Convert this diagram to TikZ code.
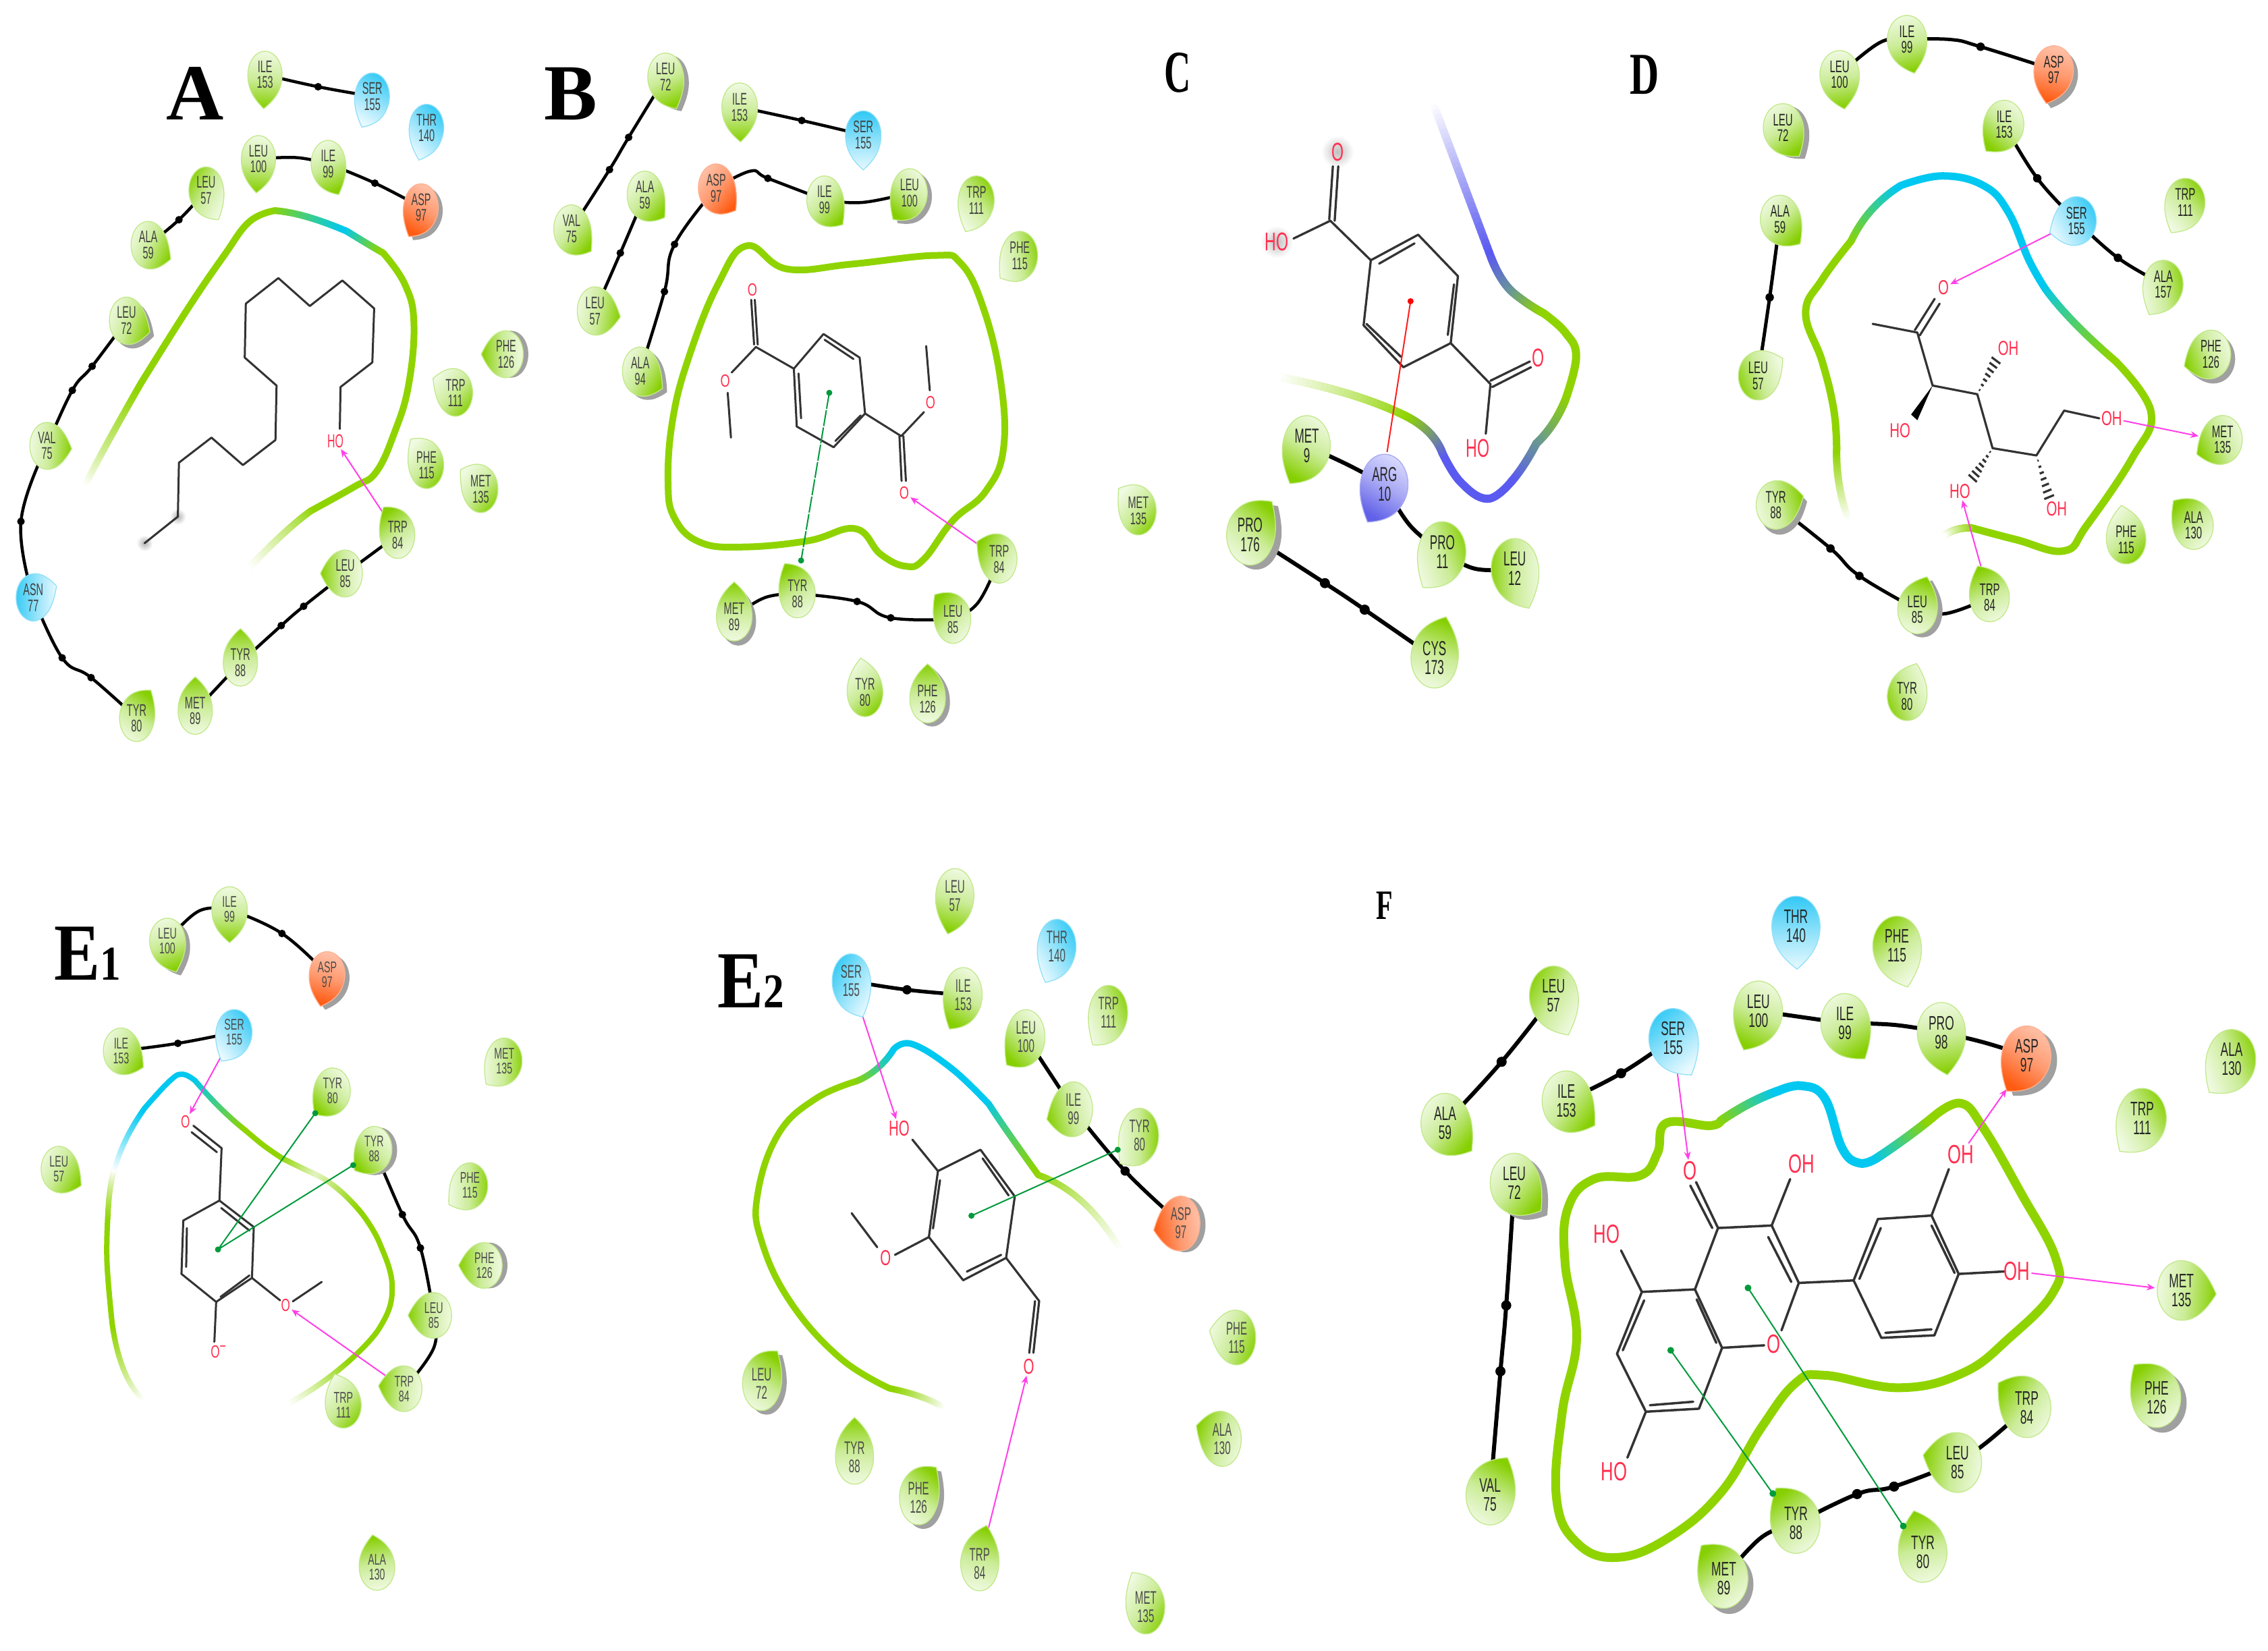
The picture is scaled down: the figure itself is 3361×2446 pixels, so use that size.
\documentclass[tikz,border=0pt]{standalone}
\usepackage{fontspec}
\usepackage{graphicx}
\usetikzlibrary{arrows.meta}
\newfontfamily\resfont{Liberation Sans}
\newfontfamily\serfont{Liberation Serif}
\pgfdeclarelayer{bg}\pgfsetlayers{bg,main}
\definecolor{pg}{HTML}{8FD400}
\definecolor{pc}{HTML}{00C8F0}
\definecolor{pb}{HTML}{5A5AF0}
\definecolor{pt}{HTML}{6A9A90}
\definecolor{pgl}{HTML}{E3F4BF}
\definecolor{hbc}{HTML}{FF40E8}
\definecolor{pic}{HTML}{009A3C}
\definecolor{atc}{HTML}{FF3050}
\definecolor{shc}{HTML}{A0A0A0}
\definecolor{r1}{HTML}{F0FAE2}\definecolor{r2}{HTML}{86CF00}\definecolor{r3}{HTML}{CBEC98}\definecolor{r4}{HTML}{C2E98A}
\definecolor{c1}{HTML}{E8F9FF}\definecolor{c2}{HTML}{30C8F5}\definecolor{c3}{HTML}{90E2FA}\definecolor{c4}{HTML}{90E0F8}
\definecolor{o1}{HTML}{FFC4AC}\definecolor{o2}{HTML}{FF5A10}\definecolor{o3}{HTML}{FF9A70}\definecolor{o4}{HTML}{FFB090}
\definecolor{b1}{HTML}{DCDCFF}\definecolor{b2}{HTML}{6060E8}\definecolor{b3}{HTML}{A8A8F4}\definecolor{b4}{HTML}{A8A8F0}
\tikzset{
 resg/.style={top color=r1,bottom color=r2,middle color=r3,draw=r4},
 resc/.style={top color=c1,bottom color=c2,middle color=c3,draw=c4},
 reso/.style={top color=o1,bottom color=o2,middle color=o3,draw=o4},
 resb/.style={top color=b1,bottom color=b2,middle color=b3,draw=b4},
 bb/.style={line width=\bbw pt,black,line cap=round},
 pk/.style={line width=\pkw pt,pg,line cap=round,line join=round},
 bd/.style={line width=\bw pt,black!80,line cap=round,line join=round},
 hb/.style={-{Stealth[length=12pt,width=10pt]},hbc,line width=2pt},
 pil/.style={pic,line width=2pt},
 atm/.style={inner sep=2pt,text=atc,font=\resfont\fontsize{\afs}{\afs}\selectfont},
 lbl/.style={inner sep=0pt,text=black,font=\serfont\bfseries\fontsize{#1}{#1}\selectfont},
 resl/.style={circle,inner sep=0pt,minimum size=36pt,align=center,text=\tcol,font=\resfont\fontsize{\lfs}{\lbs}\selectfont},
}
\def\dpath{(68,0) .. controls (50,28) and (30,47) .. (0,47) .. controls (-26,47) and (-47,26) .. (-47,0) .. controls (-47,-26) and (-26,-47) .. (0,-47) .. controls (30,-47) and (50,-28) .. (68,0) -- cycle}
\newcommand\res[9][]{%
 \if\relax\detokenize{#1}\relax\pgfmathsetmacro\sa{#5+90}\else\pgfmathsetmacro\sa{#1+90}\fi
 \begin{scope}[shift={(#3,#4)},x={({\gx*cos(#5)*1pt},{\gy*sin(#5)*1pt})},y={({-1*\gx*sin(#5)*1pt},{\gy*cos(#5)*1pt})}]
  \if\relax\detokenize{#7}\relax\else
   \fill[shc,shift={({14*\gx*cos(#7)*1pt},{14*\gy*sin(#7)*1pt})}] \dpath;
  \fi
  \shade[res#6,shading angle=\sa,line width=1.3pt] \dpath;
 \end{scope}
 \node[resl] (#2) at (#3,#4) {\scalebox{\lxs}[1]{#8}\\\scalebox{\lxs}[1]{#9}};
}
\newcommand\lk[3]{\begin{pgfonlayer}{bg}\draw[bb] plot[smooth,tension=.7] coordinates {(#1) #2 (#3)};\end{pgfonlayer}}
\newcommand\dt[1]{\begin{pgfonlayer}{bg}\foreach \q in {#1}{\fill[black] \q circle[radius=1.25*\bbw pt];}\end{pgfonlayer}}
\newcommand\gr[3]{\grp{#1}{#2}#3\grend}
\def\grp#1#2(#3,#4) (#5,#6) (#7,#8)\grend{%
 \begin{pgfonlayer}{bg}
 \foreach \i in {1,...,30}{%
  \pgfmathsetmacro\ta{(\i-1)/30}\pgfmathsetmacro\tb{\i/30}\pgfmathsetmacro\pkpct{100*\tb}%
  \pgfmathsetmacro\xa{#3*(1-\ta)*(1-2*\ta)+4*#5*\ta*(1-\ta)+#7*\ta*(2*\ta-1)}%
  \pgfmathsetmacro\ya{#4*(1-\ta)*(1-2*\ta)+4*#6*\ta*(1-\ta)+#8*\ta*(2*\ta-1)}%
  \pgfmathsetmacro\xb{#3*(1-\tb)*(1-2*\tb)+4*#5*\tb*(1-\tb)+#7*\tb*(2*\tb-1)}%
  \pgfmathsetmacro\yb{#4*(1-\tb)*(1-2*\tb)+4*#6*\tb*(1-\tb)+#8*\tb*(2*\tb-1)}%
  \draw[line width=\pkw pt,line cap=round,color=#2!\pkpct!#1] (\xa,\ya) -- (\xb,\yb);
 }
 \end{pgfonlayer}}
\newcommand\pkd[1]{\begin{pgfonlayer}{bg}\draw[pk] plot[smooth,tension=.7] coordinates {#1};\end{pgfonlayer}}
\newcommand\pkc[1]{\begin{pgfonlayer}{bg}\draw[pk] plot[smooth cycle,tension=.7] coordinates {#1};\end{pgfonlayer}}
\newcommand\hbk[2]{\begin{pgfonlayer}{bg}\draw[hb] (#1) -- (#2);\end{pgfonlayer}}
\newcommand\at[4]{\node[atm] (#1) at (#2,#3) {\scalebox{\axs}[1]{#4}};}
\newcommand\hashb[4]{\foreach \tt in {.12,.26,.40,.54,.68,.82,.96}{\pgfmathsetmacro\hx{#1+\tt*(#3-#1)}\pgfmathsetmacro\hy{#2+\tt*(#4-#2)}\pgfmathsetmacro\hl{veclen(#3-#1,#4-#2)}\pgfmathsetmacro\nx{-(#4-#2)/\hl*\tt*13}\pgfmathsetmacro\ny{(#3-#1)/\hl*\tt*13}\draw[bd,line cap=butt] (\hx+\nx,\hy+\ny) -- (\hx-\nx,\hy-\ny);}}
\begin{document}
\begin{tikzpicture}[x=1pt,y=-1pt]
\useasboundingbox (0,0) rectangle (3361,2446);
\begin{pgfonlayer}{bg}\fill[white] (0,0) rectangle (3361,2446);\end{pgfonlayer}
%%%%%%%% labels
\node[lbl=118] (lblA) at (289,139) {A};
\node[lbl=118] (lblB) at (846,139) {B};
\node[lbl=88] (lblC) at (1745,108) {\scalebox{.62}[1]{C}};
\node[lbl=88] (lblD) at (2437,111) {\scalebox{.68}[1]{D}};
\node[lbl=120] (lblE) at (130,1413) {\scalebox{.85}[1]{E{\fontsize{72}{72}\selectfont 1}}};
\node[lbl=120] (lblF) at (1113,1454) {\scalebox{.85}[1]{E{\fontsize{72}{72}\selectfont 2}}};
\node[lbl=62] (lblG) at (2052,1342) {\scalebox{.65}[1]{F}};
%%%%%%%% Panel A
\def\gx{.54}\def\gy{.74}\def\lfs{25}\def\lbs{23.5}\def\lxs{.58}\def\pkw{10}\def\bbw{4.5}\def\bw{3}\def\tcol{black!75}\def\afs{28}\def\axs{.57}
\begin{scope}[shift={(0,0)},x=.5357pt,y=-.7143pt]
\gr{white}{pg}{(240,1000) (300,915) (390,795)}
\pkd{(390,795) (520,640) (620,530) (690,460) (760,437)}
\gr{pg}{pc}{(760,437) (850,450) (960,480)}
\gr{pc}{pg}{(960,480) (1010,503) (1060,525)}
\pkd{(1060,525) (1120,590) (1145,670) (1130,800) (1090,900) (1040,980) (980,1010) (860,1060)}
\gr{pg}{white}{(860,1060) (780,1110) (680,1185)}
\res{aI}{733}{155}{-93}{g}{}{ILE}{153}
\res[60]{aS}{1030}{200}{-115}{c}{}{SER}{155}
\res[45]{aT}{1180}{265}{-108}{c}{}{THR}{140}
\res{aL}{715}{330}{-95}{g}{}{LEU}{100}
\res{aIn}{908}{340}{-65}{g}{}{ILE}{99}
\res{aD}{1165}{430}{-120}{o}{-30}{ASP}{97}
\res[150]{aL5}{570}{395}{-60}{g}{}{LEU}{57}
\res{aA}{410}{508}{-25}{g}{}{ALA}{59}
\res{aL7}{350}{665}{-20}{g}{-35}{LEU}{72}
\res{aV}{130}{925}{-5}{g}{}{VAL}{75}
\res[180]{aN}{92}{1240}{20}{c}{}{ASN}{77}
\res{aY}{378}{1490}{55}{g}{}{TYR}{80}
\res{aM}{540}{1475}{90}{g}{}{MET}{89}
\res{aY8}{665}{1375}{90}{g}{}{TYR}{88}
\res{aL8}{955}{1190}{180}{g}{}{LEU}{85}
\res{aW}{1100}{1110}{125}{g}{}{TRP}{84}
\res{aF}{1400}{735}{180}{g}{0}{PHE}{126}
\res[-40]{aW1}{1260}{815}{155}{g}{}{TRP}{111}
\res[-40]{aF1}{1180}{965}{130}{g}{}{PHE}{115}
\res[-40]{aM1}{1330}{1015}{145}{g}{}{MET}{135}
\lk{aI}{(880,180)}{aS}\dt{(880,180)}
\lk{aL}{(820,327)}{aIn}
\lk{aIn}{(1037,380)}{aD}\dt{(1037,380)}
\lk{aL5}{(495,456)}{aA}\dt{(495,456)}
\lk{aL7}{(255,760) (200,810)}{aV}\dt{(255,760),(200,810)}
\lk{aV}{(58,1082)}{aN}\dt{(58,1082)}
\lk{aN}{(172,1365) (252,1406)}{aY}\dt{(172,1365),(252,1406)}
\lk{aM}{}{aY8}
\lk{aY8}{(778,1298) (840,1258)}{aL8}\dt{(778,1298),(840,1258)}
\lk{aL8}{}{aW}
\shade[inner color=black!30,outer color=white] (400,1127) circle[radius=12pt];
\shade[inner color=black!30,outer color=white] (492,1072) circle[radius=12pt];
\draw[bd] (400,1127) -- (492,1072) -- (495,960) -- (585,908) -- (672,965) -- (762,913) -- (765,800) -- (677,742) -- (680,630) -- (770,577) -- (857,635) -- (947,582) -- (1035,640) -- (1030,752) -- (942,803) -- (940,890);
\at{aHO}{928}{915}{HO}
\hbk{aW}{aHO}
\end{scope}
%%%%%%%% Panel B
\def\gx{.56}\def\gy{.76}\def\lfs{25}\def\lbs{24}\def\lxs{.58}\def\pkw{10}\def\bbw{4.5}\def\bw{3}\def\tcol{black!75}\def\afs{26}\def\axs{.7}
\begin{scope}[shift={(780,0)},x=.5357pt,y=-.7143pt]
\pkc{(610,510) (720,558) (900,548) (1130,530) (1200,545) (1260,630) (1310,780) (1320,930) (1270,1020) (1180,1080) (1100,1160) (1050,1175) (980,1150) (910,1097) (780,1122) (600,1135) (480,1125) (410,1075) (392,1000) (405,870) (450,740) (530,590)}
\res{bL7}{385}{160}{-65}{g}{-20}{LEU}{72}
\res{bI}{590}{222}{-88}{g}{}{ILE}{153}
\res[90]{bS}{932}{280}{-90}{c}{}{SER}{155}
\res{bV}{125}{475}{-40}{g}{}{VAL}{75}
\res{bA}{328}{405}{-40}{g}{}{ALA}{59}
\res{bD}{525}{390}{-40}{o}{}{ASP}{97}
\res{bIn}{825}{415}{-45}{g}{}{ILE}{99}
\res{bL}{1060}{400}{-130}{g}{-30}{LEU}{100}
\res[40]{bW1}{1245}{415}{-115}{g}{}{TRP}{111}
\res[10]{bF1}{1365}{530}{-140}{g}{}{PHE}{115}
\res{bL5}{190}{645}{-10}{g}{}{LEU}{57}
\res{bA9}{315}{770}{-30}{g}{-30}{ALA}{94}
\res{bM}{575}{1280}{90}{g}{-40}{MET}{89}
\res{bY8}{750}{1232}{120}{g}{}{TYR}{88}
\res{bL8}{1180}{1285}{135}{g}{}{LEU}{85}
\res{bW}{1308}{1160}{150}{g}{}{TRP}{84}
\res[-45]{bY}{937}{1437}{100}{g}{}{TYR}{80}
\res{bF}{1110}{1450}{90}{g}{-30}{PHE}{126}
\res[-40]{bMx}{1693}{1060}{140}{g}{}{MET}{135}
\lk{bL7}{(283,285) (230,352)}{bV}\dt{(283,285),(230,352)}
\lk{bI}{(762,250)}{bS}\dt{(762,250)}
\lk{bA}{(260,525)}{bL5}\dt{(260,525)}
\lk{bD}{(410,507) (382,605)}{bA9}\dt{(410,507),(382,605)}
\lk{bD}{(620,355) (668,370)}{bIn}\dt{(668,370)}
\lk{bIn}{(930,420)}{bL}
\lk{bM}{(660,1240)}{bY8}
\lk{bY8}{(915,1248) (1008,1282)}{bL8}\dt{(915,1248),(1008,1282)}
\lk{bL8}{(1250,1250)}{bW}
\draw[bd] (740,765) -- (822,693) -- (922,742) -- (937,858) -- (850,928) -- (748,885) -- cycle;
\draw[bd] (753,775) -- (760,868) (825,705) -- (905,745) (855,915) -- (925,862);
\draw[bd] (740,765) -- (635,720) -- (568,773) (630,715) -- (622,622) (640,715) -- (632,622) (557,815) -- (566,908);
\draw[bd] (937,858) -- (1037,905) -- (1100,855) (1116,810) -- (1106,718) (1032,905) -- (1038,998) (1043,905) -- (1050,998);
\at{bO1}{625}{602}{O}\at{bO2}{550}{790}{O}\at{bO3}{1118}{835}{O}\at{bO4}{1045}{1023}{O}
\hbk{bW}{bO4}
\coordinate (bc1) at (838,815);\coordinate (bc2) at (760,1163);
\draw[pil,dash pattern=on 24pt off 2pt] (bc1) -- (bc2);\fill[pic] (bc1) circle[radius=4.5pt] (bc2) circle[radius=4.5pt];
\end{scope}
%%%%%%%% Panel C
\def\gx{.74}\def\gy{.95}\def\lfs{30}\def\lbs{28.5}\def\lxs{.57}\def\pkw{12}\def\bbw{6}\def\bw{3.3}\def\tcol{black!85}\def\afs{38}\def\axs{.61}
\begin{scope}[shift={(1650,0)},x=.5357pt,y=-.7143pt]
\gr{white}{pb}{(890,225) (965,375) (1045,535)}
\gr{pb}{pt}{(1045,535) (1075,580) (1110,610)}
\gr{pt}{pg}{(1110,610) (1150,632) (1190,650)}
\pkd{(1190,650) (1250,690) (1280,740) (1250,830)}
\gr{pg}{pt}{(1250,830) (1215,880) (1170,920)}
\gr{pt}{pb}{(1170,920) (1135,965) (1100,1000)}
\begin{pgfonlayer}{bg}\draw[pk,pb] plot[smooth,tension=.7] coordinates {(1100,1000) (1035,1035) (960,1000) (910,940)};\end{pgfonlayer}
\gr{pb}{pg}{(910,940) (870,895) (800,860)}
\gr{pg}{white}{(800,860) (640,815) (440,780)}
\res{cP}{378}{1110}{50}{g}{-30}{PRO}{176}
\res{cM}{535}{925}{-120}{g}{}{MET}{9}
\res{cA}{750}{1005}{-120}{b}{}{ARG}{10}
\res[20]{cP1}{910}{1145}{-125}{g}{}{PRO}{11}
\res[180]{cL}{1110}{1180}{-65}{g}{}{LEU}{12}
\res{cC}{888}{1365}{70}{g}{}{CYS}{173}
\lk{cM}{(650,965)}{cA}
\lk{cA}{(820,1090)}{cP1}
\lk{cP1}{(1000,1180)}{cL}
\lk{cP}{(585,1210) (695,1265)}{cC}\dt{(585,1210),(695,1265)}
\shade[inner color=black!25,outer color=white] (620,315) circle[radius=24pt];
\shade[inner color=black!25,outer color=white] (452,502) circle[radius=24pt];
\draw[bd] (712,540) -- (843,487) -- (953,573) -- (933,712) -- (802,762) -- (692,675) -- cycle;
\draw[bd] (735,547) -- (833,505) (942,590) -- (925,695) (700,672) -- (795,740);
\draw[bd] (712,540) -- (600,458) -- (498,495) (597,455) -- (607,345) (612,458) -- (622,345);
\draw[bd] (933,712) -- (1043,797) -- (1030,900) (1043,790) -- (1152,750) (1048,803) -- (1155,762);
\at{cO1}{620}{315}{O}\at{cHO1}{452}{502}{HO}\at{cO2}{1175}{743}{O}\at{cHO2}{1008}{930}{HO}
\coordinate (cc) at (822,625);\coordinate (cc2) at (757,938);
\draw[red!85!pink,line width=2pt] (cc) -- (cc2);\fill[red] (cc) circle[radius=4.5pt];
\end{scope}
%%%%%%%% Panel D
\def\gx{.62}\def\gy{.76}\def\lfs{25}\def\lbs{23.5}\def\lxs{.6}\def\pkw{11}\def\bbw{5}\def\bw{3.2}\def\tcol{black!85}\def\afs{30}\def\axs{.68}
\begin{scope}[shift={(2400,0)},x=.6129pt,y=-.7143pt]
\gr{white}{pg}{(550,1070) (530,1000) (525,930)}
\pkd{(525,930) (518,850) (490,750) (450,650) (490,580) (560,500)}
\gr{pg}{pc}{(560,500) (610,435) (680,385)}
\begin{pgfonlayer}{bg}\draw[pk,pc] plot[smooth,tension=.7] coordinates {(680,385) (780,365) (880,385) (940,440) (990,540) (1030,600)};\end{pgfonlayer}
\gr{pc}{pg}{(1030,600) (1100,670) (1200,750)}
\pkd{(1200,750) (1285,855) (1240,950) (1130,1090) (1075,1143) (960,1120) (850,1095)}
\gr{pg}{white}{(850,1095) (810,1100) (780,1115)}
\res{dIn}{695}{82}{-75}{g}{}{ILE}{99}
\res{dL}{532}{155}{-80}{g}{}{LEU}{100}
\res{dD}{1050}{145}{-105}{o}{-40}{ASP}{97}
\res{dL7}{395}{265}{-55}{g}{-20}{LEU}{72}
\res{dI}{930}{258}{-130}{g}{}{ILE}{153}
\res{dA}{388}{455}{-45}{g}{}{ALA}{59}
\res[30]{dS}{1105}{458}{200}{c}{}{SER}{155}
\res[40]{dW1}{1368}{420}{-120}{g}{}{TRP}{111}
\res[10]{dA5}{1315}{590}{-120}{g}{}{ALA}{157}
\res{dF}{1430}{735}{200}{g}{-40}{PHE}{126}
\res[200]{dL5}{335}{780}{30}{g}{}{LEU}{57}
\res{dM}{1458}{912}{205}{g}{}{MET}{135}
\res[-45]{dF1}{1225}{1120}{100}{g}{}{PHE}{115}
\res{dA1}{1388}{1090}{135}{g}{}{ALA}{130}
\res{dY8}{378}{1048}{15}{g}{-50}{TYR}{88}
\res{dL8}{720}{1265}{70}{g}{-30}{LEU}{85}
\res{dW}{895}{1240}{115}{g}{}{TRP}{84}
\res[200]{dY}{695}{1445}{70}{g}{}{TYR}{80}
\lk{dL}{(630,88)}{dIn}
\lk{dIn}{(800,82) (873,97)}{dD}\dt{(873,97)}
\lk{dI}{(1010,370)}{dS}\dt{(1010,370)}
\lk{dS}{(1205,535)}{dA5}\dt{(1205,535)}
\lk{dA}{(363,617)}{dL5}\dt{(363,617)}
\lk{dY8}{(510,1138) (580,1195)}{dL8}\dt{(510,1138),(580,1195)}
\lk{dL8}{(790,1273)}{dW}
\draw[bd] (612,672) -- (720,690) -- (757,800) -- (865,818) -- (902,930) -- (1008,945) -- (1075,852) -- (1160,868);
\draw[bd] (714,685) -- (762,620) (726,696) -- (774,630);
\fill[black] (757,800) -- (705,860) -- (720,872) -- cycle;
\hashb{865}{818}{912}{745}
\hashb{902}{930}{852}{995}
\hashb{1008}{945}{1040}{1035}
\at{dO}{783}{597}{O}\at{dOH1}{940}{722}{OH}\at{dHO1}{678}{893}{HO}\at{dHO2}{823}{1020}{HO}\at{dOH2}{1057}{1056}{OH}\at{dOH3}{1190}{868}{OH}
\hbk{dS}{dO}
\coordinate (dme) at (1400,905);
\hbk{dOH3}{dme}
\hbk{dW}{dHO2}
\end{scope}
%%%%%%%% Panel E1
\def\gx{.56}\def\gy{.72}\def\lfs{23}\def\lbs{22}\def\lxs{.62}\def\pkw{8}\def\bbw{4.5}\def\bw{3}\def\tcol{black!70}\def\afs{26}\def\axs{.66}
\begin{scope}[shift={(0,1280)},x=.5357pt,y=-.7398pt]
\gr{white}{pg}{(390,1070) (340,1010) (310,920)}
\pkd{(310,920) (296,800) (298,710)}
\gr{pg}{white}{(298,710) (305,650) (318,610)}
\gr{white}{pc}{(318,610) (350,550) (400,490)}
\begin{pgfonlayer}{bg}\draw[pk,pc] plot[smooth,tension=.7] coordinates {(400,490) (470,435) (505,422) (540,435)};\end{pgfonlayer}
\gr{pc}{pg}{(540,435) (610,490) (680,535)}
\pkd{(680,535) (730,565) (780,590)}
\gr{pg}{pgl}{(780,590) (830,608) (880,625)}
\gr{pgl}{pg}{(880,625) (940,655) (1000,700)}
\pkd{(1000,700) (1050,760) (1085,850) (1050,930) (960,1000)}
\gr{pg}{white}{(960,1000) (880,1045) (790,1085)}
\res{eL}{463}{155}{-70}{g}{-30}{LEU}{100}
\res{eIn}{635}{92}{-90}{g}{}{ILE}{99}
\res{eD}{905}{222}{-105}{o}{-30}{ASP}{97}
\res{eI}{335}{375}{-30}{g}{}{ILE}{153}
\res[40]{eS}{648}{338}{-120}{c}{}{SER}{155}
\res{eL5}{163}{612}{-30}{g}{}{LEU}{57}
\res{eY}{920}{455}{-135}{g}{}{TYR}{80}
\res{eY8}{1035}{572}{-140}{g}{-10}{TYR}{88}
\res[0]{eM}{1395}{395}{-135}{g}{}{MET}{135}
\res[0]{eF1}{1300}{645}{-145}{g}{}{PHE}{115}
\res{eF}{1340}{805}{180}{g}{0}{PHE}{126}
\res{eL8}{1200}{905}{180}{g}{}{LEU}{85}
\res{eW}{1118}{1052}{175}{g}{}{TRP}{84}
\res[-40]{eW1}{950}{1085}{110}{g}{}{TRP}{111}
\res{eA}{1043}{1410}{100}{g}{}{ALA}{130}
\lk{eL}{(550,95)}{eIn}
\lk{eIn}{(780,140)}{eD}\dt{(780,140)}
\lk{eI}{(492,360)}{eS}\dt{(492,360)}
\lk{eY8}{(1113,703) (1163,770)}{eL8}\dt{(1113,703),(1163,770)}
\lk{eL8}{(1200,970)}{eW}
\draw[bd] (607,675) -- (702,728) -- (697,830) -- (598,878) -- (502,822) -- (507,715) -- cycle;
\draw[bd] (612,690) -- (690,735) (690,825) -- (610,868) (517,730) -- (515,808);
\draw[bd] (607,675) -- (613,570) -- (535,525) (600,578) -- (530,538);
\draw[bd] (697,830) -- (775,875) (810,877) -- (890,838) (598,878) -- (593,958);
\at{eO1}{513}{517}{O}\at{eO2}{790}{885}{O}\at{eO3}{604}{978}{O\raisebox{.35em}{\fontsize{24}{24}\selectfont −}}
\hbk{eS}{eO1}
\hbk{eW}{eO2}
\coordinate (ec) at (603,773);\coordinate (ec1) at (872,500);\coordinate (ec2) at (977,604);
\draw[pil] (ec) -- (ec1) (ec) -- (ec2);\fill[pic] (ec) circle[radius=4.5pt] (ec1) circle[radius=4.5pt] (ec2) circle[radius=4.5pt];
\end{scope}
%%%%%%%% Panel E2
\def\gx{.6}\def\gy{.86}\def\lfs{27}\def\lbs{27}\def\lxs{.56}\def\pkw{9.5}\def\bbw{5.5}\def\bw{3.2}\def\tcol{black!70}\def\afs{32}\def\axs{.64}
\begin{scope}[shift={(1000,1260)},x=.6122pt,y=-.7526pt]
\gr{white}{pg}{(645,1095) (590,1075) (520,1060)}
\pkd{(520,1060) (400,1000) (280,890) (210,770) (200,680) (250,560) (340,490) (440,455)}
\gr{pg}{pc}{(440,455) (490,430) (530,392)}
\begin{pgfonlayer}{bg}\draw[pk,pc] plot[smooth,tension=.7] coordinates {(530,392) (575,382) (670,430) (760,500)};\end{pgfonlayer}
\gr{pc}{pg}{(760,500) (810,560) (880,640)}
\gr{pg}{white}{(880,640) (990,695) (1085,795)}
\res{fL5}{678}{90}{-105}{g}{}{LEU}{57}
\res[150]{fS}{427}{258}{-65}{c}{}{SER}{155}
\res{fI}{698}{285}{-120}{g}{}{ILE}{153}
\res[30]{fT}{925}{190}{-115}{c}{}{THR}{140}
\res[20]{fW1}{1050}{320}{-125}{g}{}{TRP}{111}
\res{fL}{850}{368}{-135}{g}{}{LEU}{100}
\res{fIn}{965}{510}{-165}{g}{}{ILE}{99}
\res[0]{fY}{1125}{562}{-135}{g}{}{TYR}{80}
\res{fD}{1225}{735}{190}{o}{-10}{ASP}{97}
\res[-20]{fF1}{1360}{960}{170}{g}{}{PHE}{115}
\res{fA}{1325}{1160}{160}{g}{}{ALA}{130}
\res{fL7}{210}{1050}{55}{g}{-30}{LEU}{72}
\res{fY8}{435}{1195}{90}{g}{}{TYR}{88}
\res{fF}{590}{1275}{50}{g}{-30}{PHE}{126}
\res{fW}{738}{1405}{75}{g}{}{TRP}{84}
\res[-30]{fM}{1140}{1490}{120}{g}{}{MET}{135}
\lk{fS}{(562,275)}{fI}\dt{(562,275)}
\lk{fL}{}{fIn}
\lk{fIn}{(1090,632)}{fD}\dt{(1090,632)}
\draw[bd] (637,632) -- (740,590) -- (823,682) -- (802,803) -- (698,847) -- (615,762) -- cycle;
\draw[bd] (745,607) -- (808,680) (707,830) -- (790,797) (642,650) -- (625,745);
\draw[bd] (637,632) -- (575,570) (615,762) -- (533,797) (490,782) -- (428,715) (802,803) -- (882,888) -- (868,990) (872,888) -- (858,990);
\at{fHO}{543}{548}{HO}\at{fO1}{510}{803}{O}\at{fO2}{857}{1017}{O}
\hbk{fS}{fHO}
\hbk{fW}{fO2}
\coordinate (fc) at (718,720);\coordinate (fc1) at (1072,590);
\draw[pil] (fc) -- (fc1);\fill[pic] (fc) circle[radius=4.5pt] (fc1) circle[radius=4.5pt];
\end{scope}
%%%%%%%% Panel F
\def\gx{.76}\def\gy{.94}\def\lfs{29}\def\lbs{28}\def\lxs{.6}\def\pkw{13}\def\bbw{6}\def\bw{3.5}\def\tcol{black!85}\def\afs{39}\def\axs{.66}
\begin{scope}[shift={(2020,1280)},x=.8552pt,y=-.7398pt]
\pkd{(620,515) (600,525) (525,520) (510,580) (480,625) (400,632) (355,690) (350,800) (370,950) (345,1100) (335,1270) (370,1360) (440,1390) (530,1350) (620,1260) (690,1130) (750,1040) (800,1025) (930,1050) (1040,1020) (1120,950) (1195,860) (1200,790) (1140,660) (1075,530) (1035,480) (985,510)}
\gr{pg}{pc}{(620,515) (670,480) (720,455)}
\begin{pgfonlayer}{bg}\draw[pk,pc] plot[smooth,tension=.7] coordinates {(720,455) (760,445) (800,470) (830,570) (860,600) (890,590)};\end{pgfonlayer}
\gr{pc}{pg}{(890,590) (940,550) (985,510)}
\res[90]{gT}{750}{125}{-88}{c}{}{THR}{140}
\res[130]{gF1}{925}{165}{-72}{g}{}{PHE}{115}
\res[150]{gL5}{330}{265}{-65}{g}{}{LEU}{57}
\res[130]{gS}{537}{350}{-58}{c}{}{SER}{155}
\res{gL}{685}{295}{-115}{g}{}{LEU}{100}
\res{gIn}{835}{320}{-55}{g}{}{ILE}{99}
\res{gP}{1002}{338}{-80}{g}{}{PRO}{98}
\res{gD}{1150}{385}{-125}{o}{-30}{ASP}{97}
\res[20]{gA1}{1505}{392}{-130}{g}{}{ALA}{130}
\res[30]{gW1}{1350}{510}{-130}{g}{}{TRP}{111}
\res{gI}{352}{475}{-35}{g}{}{ILE}{153}
\res{gA}{142}{520}{-40}{g}{}{ALA}{59}
\res{gL7}{262}{640}{-40}{g}{-30}{LEU}{72}
\res{gM1}{1418}{855}{-5}{g}{}{MET}{135}
\res{gF}{1375}{1070}{130}{g}{-35}{PHE}{126}
\res{gW}{1150}{1090}{145}{g}{}{TRP}{84}
\res{gL8}{1030}{1200}{170}{g}{}{LEU}{85}
\res{gV}{220}{1265}{60}{g}{}{VAL}{75}
\res{gY8}{750}{1322}{125}{g}{}{TYR}{88}
\res{gY}{970}{1380}{105}{g}{}{TYR}{80}
\res{gM}{625}{1432}{130}{g}{-40}{MET}{89}
\lk{gA}{(240,397)}{gL5}\dt{(240,397)}
\lk{gI}{(447,420)}{gS}\dt{(447,420)}
\lk{gL}{}{gIn}
\lk{gIn}{(920,323)}{gP}
\lk{gP}{(1075,358)}{gD}
\lk{gL7}{(248,885) (238,1017)}{gV}\dt{(248,885),(238,1017)}
\lk{gM}{(690,1350)}{gY8}
\lk{gY8}{(856,1263) (920,1248)}{gL8}\dt{(856,1263),(920,1248)}
\lk{gL8}{(1080,1160)}{gW}
\draw[bd] (483,858) -- (575,853) -- (622,970) -- (582,1092) -- (490,1098) -- (440,982) -- cycle;
\draw[bd] (575,853) -- (615,730) -- (708,725) -- (755,840) -- (725,935) (622,970) -- (695,965);
\draw[bd] (850,835) -- (892,712) -- (985,705) -- (1032,822) -- (990,945) -- (898,950) -- cycle (755,840) -- (850,835);
\draw[bd] (487,875) -- (450,975) (578,873) -- (612,960) (497,1085) -- (572,1078) (702,748) -- (742,838);
\draw[bd] (897,730) -- (860,832) (985,725) -- (1025,820) (905,940) -- (985,933);
\draw[bd] (615,730) -- (577,638) (605,730) -- (567,645) (708,725) -- (740,632) (483,858) -- (447,775) (490,1098) -- (458,1190) (985,705) -- (1015,612) (1032,822) -- (1112,817);
\at{gO}{566}{615}{O}\at{gOH1}{760}{602}{OH}\at{gHO1}{422}{742}{HO}\at{gHO2}{435}{1218}{HO}\at{gOH2}{1036}{582}{OH}\at{gOH3}{1133}{817}{OH}\at{gO2}{712}{963}{O}
\hbk{gS}{gO}
\coordinate (gda) at (1115,452);\coordinate (gme) at (1372,850);
\hbk{gOH2}{gda}
\hbk{gOH3}{gme}
\coordinate (gc1) at (667,850);\coordinate (gc2) at (936,1327);\coordinate (gc3) at (533,975);\coordinate (gc4) at (710,1262);
\draw[pil] (gc1) -- (gc2) (gc3) -- (gc4);\fill[pic] (gc1) circle[radius=5pt] (gc2) circle[radius=5pt] (gc3) circle[radius=5pt] (gc4) circle[radius=5pt];
\end{scope}
\end{tikzpicture}
\end{document}
